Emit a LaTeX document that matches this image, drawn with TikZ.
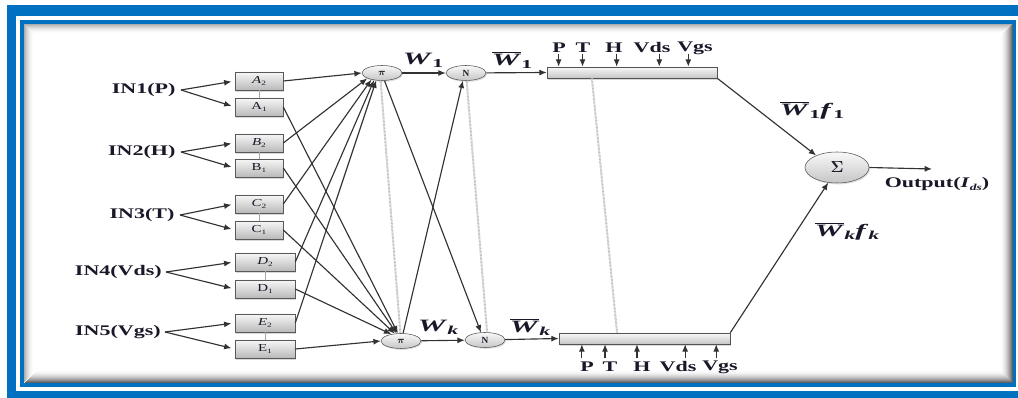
\documentclass[tikz,border=0pt]{standalone}
\usepackage{fontspec}
\setmainfont{Liberation Serif}
\usepackage{amsmath}
\usetikzlibrary{arrows.meta,shapes.geometric,shadows,calc}

\definecolor{frameblue}{RGB}{0,112,192}
\definecolor{ink}{RGB}{24,24,40}
\definecolor{wire}{RGB}{50,50,50}

\newcommand{\stretchx}[2][1.5]{\scalebox{#1}[1]{#2}}
\newcommand{\bfit}[1]{\textbf{\textit{#1}}}
\newcommand{\lowsub}[1]{\raisebox{-0.45ex}{\scalebox{0.62}{#1}}}
\newcommand{\wsub}[1]{\raisebox{-0.4ex}{\scalebox{0.7}{#1}}}
\newcommand{\barW}{$\overline{\text{\bfit{W}}}$}

\tikzset{
  lbl/.style={font=\fontsize{11}{13}\selectfont\bfseries, text=ink, inner sep=0pt},
  wlbl/.style={font=\fontsize{13}{15}\selectfont, text=ink, inner sep=0pt},
  mf/.style={draw=gray!70!black, line width=0.45pt, top color=gray!6, bottom color=gray!55,
    minimum height=13.5pt, inner sep=0pt, font=\fontsize{8}{9}\selectfont, text=ink,
    drop shadow={opacity=0.3, shadow xshift=1pt, shadow yshift=-1.2pt}},
  neuron/.style={ellipse, draw=gray!65!black, line width=0.4pt, top color=gray!5, bottom color=gray!45,
    minimum width=30pt, minimum height=11.25pt, inner sep=0pt, font=\fontsize{7}{8}\selectfont\bfseries, text=ink,
    drop shadow={opacity=0.25, shadow xshift=0.8pt, shadow yshift=-1pt}},
  bar/.style={draw=gray!65!black, line width=0.45pt, top color=gray!5, bottom color=gray!45,
    minimum height=8.25pt, inner sep=0pt,
    drop shadow={opacity=0.3, shadow xshift=1pt, shadow yshift=-1.2pt}},
  arr/.style={draw=wire, line width=0.85pt, -{Latex[length=5.5pt,width=4.5pt]}},
  pairline/.style={draw=gray!70, line width=0.7pt},
  dots/.style={draw=gray!50, line width=1.5pt, dash pattern=on 0.6pt off 0.45pt},
}

\begin{document}
\begin{tikzpicture}[x=0.75pt, y=-0.75pt]
\path[use as bounding box] (0,0) rectangle (1018,398);

% double blue frame
\fill[white] (0,0) rectangle (1018,398);
\fill[frameblue] (7,5) rectangle (1018,398);
\fill[white] (16,16) rectangle (1018,391);
\fill[frameblue] (20,20) rectangle (1016,387);
\fill[white] (24,24) rectangle (1013,383);
% inner shadow of the panel
\foreach \i in {0,...,12} {
  \pgfmathsetmacro\tl{32*(1-\i/10)^2*(\i<10)}
  \pgfmathsetmacro\br{62*(1-\i/13)^2}
  \draw[line width=0.8pt, draw=black!\tl] (24.5+\i,382.5-\i) -- (24.5+\i,24.5+\i) -- (1012.5-\i,24.5+\i);
  \draw[line width=0.8pt, draw=black!\br] (24.5+\i,382.5-\i) -- (1012.5-\i,382.5-\i) -- (1012.5-\i,24.5+\i);
}

% membership-function boxes
\node[mf, minimum width=36pt] (A2) at (259,81)  {\stretchx[1.4]{\textit{A}\lowsub{2}}};
\node[mf, minimum width=36pt] (A1) at (259,107) {\stretchx[1.4]{A\lowsub{1}}};
\node[mf, minimum width=36pt] (B2) at (259,143) {\stretchx[1.4]{\textit{B}\lowsub{2}}};
\node[mf, minimum width=36pt] (B1) at (259,168) {\stretchx[1.4]{B\lowsub{1}}};
\node[mf, minimum width=36pt] (C2) at (259,204) {\stretchx[1.4]{\textit{C}\lowsub{2}}};
\node[mf, minimum width=36pt] (C1) at (259,230) {\stretchx[1.4]{C\lowsub{1}}};
\node[mf, minimum width=45pt] (D2) at (265,262) {\stretchx[1.4]{\textit{D}\lowsub{2}}};
\node[mf, minimum width=45pt] (D1) at (265,289) {\stretchx[1.4]{D\lowsub{1}}};
\node[mf, minimum width=45pt] (E2) at (265,323) {\stretchx[1.4]{\textit{E}\lowsub{2}}};
\node[mf, minimum width=45pt] (E1) at (265,349) {\stretchx[1.4]{E\lowsub{1}}};
\foreach \u/\l in {A2/A1,B2/B1,C2/C1,D2/D1,E2/E1}
  \draw[pairline] (\u) -- (\l);

% inputs
\node[lbl, anchor=east, inner xsep=4pt] (in1) at (181,90)  {\stretchx{IN1(P)}};
\node[lbl, anchor=east, inner xsep=4pt] (in2) at (181,152) {\stretchx{IN2(H)}};
\node[lbl, anchor=east, inner xsep=4pt] (in3) at (180,215) {\stretchx{IN3(T)}};
\node[lbl, anchor=east, inner xsep=3pt] (in4) at (166,272) {\stretchx{IN4(Vds)}};
\node[lbl, anchor=east, inner xsep=3pt] (in5) at (165,332) {\stretchx{IN5(Vgs)}};
\foreach \s/\a/\b in {in1/A2/A1,in2/B2/B1,in3/C2/C1,in4/D2/D1,in5/E2/E1}{
  \draw[arr, shorten >=2.5pt] (\s.east) -- (\a.west);
  \draw[arr, shorten >=2.5pt] (\s.east) -- (\b.west);
}

% rule and normalisation neurons
\node[neuron] (p1) at (382,73)  {$\boldsymbol{\pi}$};
\node[neuron] (n1) at (466,73)  {N};
\node[neuron] (pk) at (401,341) {$\boldsymbol{\pi}$};
\node[neuron] (nk) at (485,340) {N};

\draw[arr] (A2.east) -- (p1.west);
\draw[arr] (B2.east) -- (p1.200);
\draw[arr] (C2.east) -- (p1.212);
\draw[arr] (D2.east) -- (p1.222);
\draw[arr] (E2.east) -- (p1.232);
\draw[arr] (A1.east) -- (pk.112);
\draw[arr] (B1.east) -- (pk.120);
\draw[arr] (C1.east) -- (pk.130);
\draw[arr] (D1.east) -- (pk.145);
\draw[arr] (E1.east) -- (pk.west);

\draw[dots] (p1.-100) -- (pk.95);
\draw[dots] (n1.-85) -- (nk.75);
\draw[arr] (p1.-72) -- (nk.118);
\draw[arr] (pk.75) -- (n1.-112);
\draw[arr] (p1) -- (n1);
\draw[arr] (pk) -- (nk);

% consequent bars
\node[bar, minimum width=127.5pt]  (bar1) at (632,72.5)  {};
\node[bar, minimum width=128.25pt] (bark) at (644.5,338.5) {};
\draw[arr] (n1) -- (bar1.west);
\draw[arr] (nk) -- (bark.west);

\coordinate (d1) at ($(bar1.south west)!0.265!(bar1.south east)$);
\coordinate (d2) at ($(bark.north west)!0.34!(bark.north east)$);
\draw[dots] (d1) -- (d2);

\foreach \f/\n in {0.07/tP,0.21/tT,0.41/tH,0.66/tVds,0.83/tVgs}{
  \coordinate (\n) at ($(bar1.north west)!\f!(bar1.north east)$);
  \coordinate (\n s) at ($(\n)+(0,-13)$);
  \draw[arr] (\n s) -- (\n);
}
\foreach \f/\n in {0.135/bP,0.27/bT,0.456/bH,0.737/bVds,0.918/bVgs}{
  \coordinate (\n) at ($(bark.south west)!\f!(bark.south east)$);
  \coordinate (\n s) at ($(\n)+(0,14)$);
  \draw[arr] (\n s) -- (\n);
}
\node[lbl] (lP)   at (559,48) {\stretchx{P}};
\node[lbl] (lT)   at (583,48) {\stretchx{T}};
\node[lbl] (lH)   at (614,48) {\stretchx{H}};
\node[lbl] (lVds) at (652,48) {\stretchx{Vds}};
\node[lbl] (lVgs) at (695,48) {\stretchx{Vgs}};
\node[lbl] (mP)   at (587,367) {\stretchx{P}};
\node[lbl] (mT)   at (610,367) {\stretchx{T}};
\node[lbl] (mH)   at (642,367) {\stretchx{H}};
\node[lbl] (mVds) at (678,367) {\stretchx{Vds}};
\node[lbl] (mVgs) at (720,367) {\stretchx{Vgs}};

% weights
\node[wlbl] (w1)  at (423,60)  {\stretchx[1.8]{\bfit{W}\wsub{\textbf{1}}}};
\node[wlbl] (w1b) at (512,60)  {\stretchx[1.8]{\barW\wsub{\textbf{1}}}};
\node[wlbl] (wk)  at (438,327) {\stretchx[1.8]{\bfit{W}\wsub{\bfit{k}}}};
\node[wlbl] (wkb) at (530,327) {\stretchx[1.8]{\barW\wsub{\bfit{k}}}};

% output neuron
\node[neuron, minimum width=48pt, minimum height=23.25pt, font=\fontsize{13}{14}\selectfont] (sum) at (837,167.5) {$\boldsymbol{\Sigma}$};
\draw[arr] (bar1.south east) -- (sum.150);
\draw[arr] (bark.north east) -- (sum.-120);
\coordinate (out) at (932,169);
\draw[arr] (sum.east) -- (out);
\node[wlbl] (wf1) at (812,110) {\stretchx[1.8]{\barW\wsub{\textbf{1}}\bfit{f}\wsub{\textbf{1}}}};
\node[wlbl] (wfk) at (847,231) {\stretchx[1.8]{\barW\wsub{\bfit{k}}\bfit{f}\wsub{\bfit{k}}}};
\node[lbl, font=\fontsize{11}{12}\selectfont\bfseries] (outl) at (937,184)
  {\stretchx{Output(\bfit{I}\lowsub{\bfit{ds}})}};
\end{tikzpicture}
\end{document}
